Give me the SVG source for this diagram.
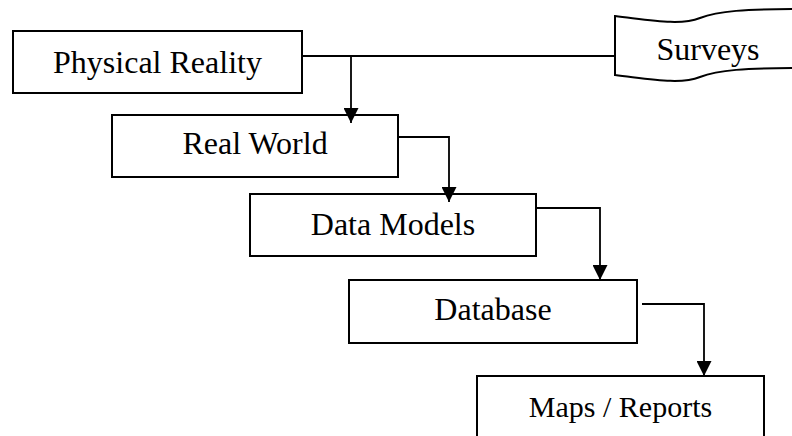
<svg xmlns="http://www.w3.org/2000/svg" width="792" height="436" viewBox="0 0 792 436">
<style>
.box{fill:#fff;stroke:#000;stroke-width:2}
.lbl{font-family:"Liberation Serif","Times New Roman",serif;font-size:32px;fill:#000;text-anchor:middle}
.con{fill:none;stroke:#000;stroke-width:1.8}
</style>
<defs>
<marker id="arr" markerUnits="userSpaceOnUse" markerWidth="15" markerHeight="15" refX="15" refY="7.5" orient="auto">
<path d="M0,0 L15,7.5 L0,15 Z" fill="#000"/>
</marker>
</defs>
<rect width="792" height="436" fill="#fff"/>
<g id="physical-reality">
<rect class="box" x="13" y="31" width="289" height="62"/>
<text class="lbl" x="157.5" y="73">Physical Reality</text>
</g>
<g id="surveys">
<path class="box" d="M615,16 C650,20 680,26 700,18 C718,11 745,9 800,9 L800,68 C745,68 718,70 700,77 C680,85 650,79 615,75 Z"/>
<text class="lbl" x="708" y="60">Surveys</text>
</g>
<g id="real-world">
<rect class="box" x="112" y="115" width="286" height="62"/>
<text class="lbl" x="255" y="154">Real World</text>
</g>
<g id="data-models">
<rect class="box" x="250" y="194" width="286" height="62"/>
<text class="lbl" x="393" y="235">Data Models</text>
</g>
<g id="database">
<rect class="box" x="349" y="280" width="288" height="63"/>
<text class="lbl" x="493" y="320">Database</text>
</g>
<g id="maps-reports">
<rect class="box" x="477" y="376" width="287" height="70"/>
<text class="lbl" x="620.5" y="417" style="font-size:30px">Maps / Reports</text>
</g>
<g id="connectors">
<path class="con" d="M302,56 H615"/>
<path class="con" d="M351,56 V123" marker-end="url(#arr)"/>
<path class="con" d="M398,137 H449 V202" marker-end="url(#arr)"/>
<path class="con" d="M536,208 H600 V280" marker-end="url(#arr)"/>
<path class="con" d="M642,304 H704 V376" marker-end="url(#arr)"/>
</g>
</svg>
